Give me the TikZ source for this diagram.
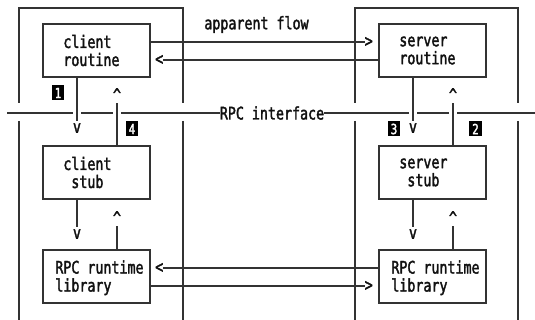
\documentclass[tikz,border=0pt]{standalone}
\usepackage{fontspec}
\setmonofont{DejaVu Sans Mono}[FakeStretch=0.77, FakeBold=2]
\usetikzlibrary{positioning}
\definecolor{lngray}{HTML}{333333}
\definecolor{txblack}{HTML}{111111}
\newcommand{\rpcfont}{\fontsize{17.3pt}{18pt}\selectfont\ttfamily}
\newcommand{\numfont}{\fontsize{14pt}{14pt}\selectfont\ttfamily}

\begin{document}
\begin{tikzpicture}[
  x=1pt, y=-1pt,
  box/.style={draw=lngray, line width=1.7pt, minimum width=107pt, minimum height=53pt, inner sep=0pt},
  txt/.style={font=\rpcfont, text=txblack, align=left, inner sep=0pt, anchor=west},
  head/.style={font=\rpcfont, text=txblack, inner sep=0pt},
  num/.style={fill=black, text=white, font=\numfont, minimum width=12.5pt, minimum height=15pt, inner sep=0pt},
  flow/.style={draw=lngray, line width=1.4pt},
  frame/.style={draw=lngray, line width=1.4pt},
]
  \useasboundingbox (0,0) rectangle (535,320);

  % Client side frame
  \draw[frame] (19,103) -- (19,8) -- (183,8) -- (183,103);
  \draw[frame] (19,121) -- (19,320) (183,121) -- (183,320);

  % Server side frame
  \draw[frame] (355,103) -- (355,8) -- (518,8) -- (518,103);
  \draw[frame] (355,121) -- (355,320) (518,121) -- (518,320);

  % Client boxes
  \node[box] (crout) at (96.5,50.5) {};
  \node[txt] (crout-t) at ([xshift=21pt]crout.west) {client\\routine};
  \node[box] (cstub) at (96.5,172.5) {};
  \node[txt] (cstub-t) at ([xshift=21pt]cstub.west) {client\\\phantom{c}stub};
  \node[box] (clib) at (96.5,276.5) {};
  \node[txt] (clib-t) at ([xshift=13pt,yshift=-1.3pt]clib.west) {RPC runtime\\library};

  % Server boxes
  \node[box] (srout) at (432.5,50.5) {};
  \node[txt] (srout-t) at ([xshift=21pt]srout.west) {server\\routine};
  \node[box] (sstub) at (432.5,172.5) {};
  \node[txt] (sstub-t) at ([xshift=21pt]sstub.west) {server\\\phantom{s}stub};
  \node[box] (slib) at (432.5,276.5) {};
  \node[txt] (slib-t) at ([xshift=13pt,yshift=-1.3pt]slib.west) {RPC runtime\\library};

  % Labels
  \node[head, anchor=base] (appflow) at (256.5,29.3) {apparent flow};
  \node[head] (rpc) at (272,113) {RPC interface};

  % Down and up heads, client side
  \node[head, anchor=south] (d1) at (77,133) {v};
  \node[head, anchor=north] (u1) at (117,88) {\textasciicircum};
  \node[head, anchor=south] (d2) at (77,239) {v};
  \node[head, anchor=north] (u2) at (117,211) {\textasciicircum};

  % Down and up heads, server side
  \node[head, anchor=south] (d3) at (413,133) {v};
  \node[head, anchor=north] (u3) at (453,88) {\textasciicircum};
  \node[head, anchor=south] (d4) at (413,239) {v};
  \node[head, anchor=north] (u4) at (453,211) {\textasciicircum};

  % Sideways heads
  \node[head, anchor=east] (r1) at (373,42) {\textgreater};
  \node[head, anchor=west] (l1) at (155,60) {\textless};
  \node[head, anchor=west] (l2) at (155,268) {\textless};
  \node[head, anchor=east] (r2) at (373,286) {\textgreater};

  % Step numbers
  \node[num] (n1) at (58,93) {1};
  \node[num] (n4) at (132,129) {4};
  \node[num] (n3) at (394,129) {3};
  \node[num] (n2) at (475.5,129) {2};

  % Interface line, broken where the calls cross it
  \coordinate (ifl) at (7,113);
  \coordinate (ifr) at (535,113);
  \draw[flow] (ifl) -- (73,113) (81,113) -- (113,113) (121,113) -- (rpc.west)
    (rpc.east) -- (409,113) (417,113) -- (449,113) (457,113) -- (ifr);

  % Apparent flow between routines
  \draw[flow] (r1 -| crout.east) -- (r1.west);
  \draw[flow] (l1 -| srout.west) -- (l1.east);

  % Real flow between runtime libraries
  \draw[flow] (l2 -| slib.west) -- (l2.east);
  \draw[flow] (r2 -| clib.east) -- (r2.west);

  % Client calls
  \draw[flow, shorten >=2pt] (crout.south -| d1) -- (d1.north);
  \draw[flow, shorten >=2pt] (cstub.north -| u1) -- (u1.south);
  \draw[flow, shorten >=2pt] (cstub.south -| d2) -- (d2.north);
  \draw[flow, shorten >=2pt] (clib.north -| u2) -- (u2.south);

  % Server calls
  \draw[flow, shorten >=2pt] (srout.south -| d3) -- (d3.north);
  \draw[flow, shorten >=2pt] (sstub.north -| u3) -- (u3.south);
  \draw[flow, shorten >=2pt] (sstub.south -| d4) -- (d4.north);
  \draw[flow, shorten >=2pt] (slib.north -| u4) -- (u4.south);
\end{tikzpicture}
\end{document}
